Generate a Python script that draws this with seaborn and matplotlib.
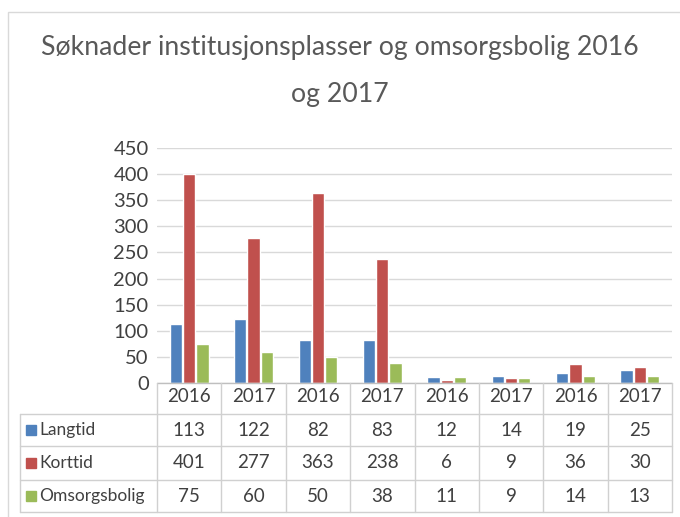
import matplotlib.pyplot as plt
import matplotlib.transforms as mtransforms
from matplotlib.lines import Line2D
from matplotlib.patches import Rectangle
import numpy as np
import pandas as pd
import seaborn as sns

title = "Søknader institusjonsplasser og omsorgsbolig 2016\nog 2017"
years = ["2016", "2017", "2016", "2017", "2016", "2017", "2016", "2017"]
series = ["Langtid", "Korttid", "Omsorgsbolig"]
langtid = [113, 122, 82, 83, 12, 14, 19, 25]
korttid = [401, 277, 363, 238, 6, 9, 36, 30]
omsorgsbolig = [75, 60, 50, 38, 11, 9, 14, 13]
colors = ["#4F81BD", "#C0504D", "#9BBB59"]

W, H = 680, 517
cols = [f"c{i}" for i in range(len(years))]
data = pd.DataFrame({
    "col": cols * 3,
    "serie": np.repeat(series, len(cols)),
    "verdi": langtid + korttid + omsorgsbolig,
})

sns.set_style("white")
plt.rcParams["font.family"] = ["Lato", "DejaVu Sans"]
txt = "#404040"

fig = plt.figure(figsize=(W / 100, H / 100), dpi=100)
ax = fig.add_axes([157 / W, 1 - 383 / H, (672 - 157) / W, (383 - 148) / H])
sns.barplot(data=data, x="col", y="verdi", hue="serie", palette=colors,
            width=0.62, gap=0.08, ax=ax, legend=False, saturation=1)
ax.set_ylim(0, 450)
ax.set_xlim(-0.5, len(cols) - 0.5)
ax.set_yticks(range(0, 451, 50))
ax.tick_params(axis="y", length=0, labelsize=14.5, labelcolor=txt, pad=6)
ax.set_xticks([])
ax.set_xlabel("")
ax.set_ylabel("")
ax.grid(axis="y", color="#D9D9D9", lw=1)
ax.set_axisbelow(True)
for s in ax.spines.values():
    s.set_visible(False)

fig.text(0.5, 1 - 48 / H, title.split("\n")[0], ha="center", va="center",
         fontsize=19.2, color="#595959")
fig.text(0.5, 1 - 94 / H, title.split("\n")[1], ha="center", va="center",
         fontsize=19.2, color="#595959")

# data table below the plot
tr = mtransforms.blended_transform_factory(ax.transData, fig.transFigure)
def fy(p):
    return 1 - p / H
line_c = "#D0D0D0"
rows_y = [383, 414, 446, 480, 512]
x_left = -0.5 - (157 - 20) / ((672 - 157) / len(cols))
for k, y in enumerate(rows_y):
    x0 = -0.5 if k == 0 else x_left
    fig.add_artist(Line2D([x0, len(cols) - 0.5], [fy(y), fy(y)], transform=tr,
                          color="#BFBFBF" if k == 0 else line_c, lw=1))
for i in range(len(cols) + 1):
    fig.add_artist(Line2D([i - 0.5, i - 0.5], [fy(383), fy(512)], transform=tr,
                          color=line_c, lw=1))
fig.add_artist(Line2D([x_left, x_left], [fy(414), fy(512)], transform=tr,
                      color=line_c, lw=1))
for i, yr in enumerate(years):
    fig.text(i, fy(397), yr, transform=tr, ha="center", va="center",
             fontsize=13.5, color=txt)
vals = [langtid, korttid, omsorgsbolig]
for r, name in enumerate(series):
    yc = fy((rows_y[r + 1] + rows_y[r + 2]) / 2)
    fig.add_artist(Rectangle((26 / W, yc - 5 / H), 10 / W, 10 / H,
                             transform=fig.transFigure, color=colors[r]))
    fig.text(39 / W, yc, name, ha="left", va="center", fontsize=12.5, color=txt)
    for i, v in enumerate(vals[r]):
        fig.text(i, yc, str(v), transform=tr, ha="center", va="center",
                 fontsize=13.5, color=txt)

# chart border
fig.add_artist(Rectangle((8 / W, -0.01), 1.0, 1 - 12 / H + 0.01,
                         transform=fig.transFigure, fill=False,
                         edgecolor="#D9D9D9", lw=1))

fig.savefig("out.png", dpi=100)
